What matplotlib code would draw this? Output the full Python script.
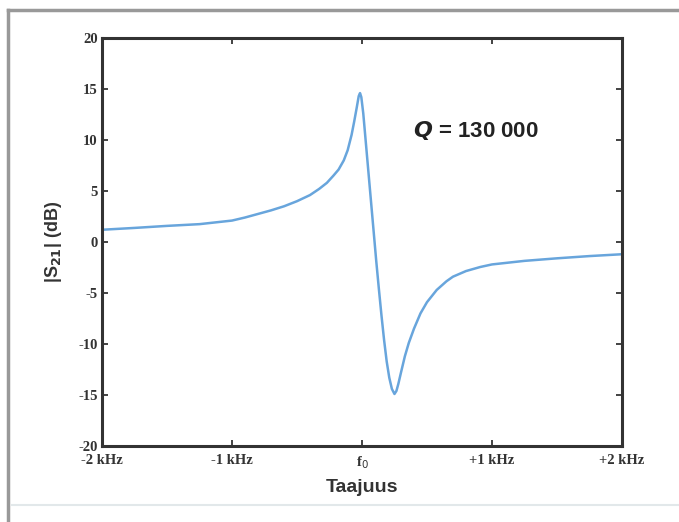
import matplotlib
matplotlib.use("Agg")
import matplotlib.pyplot as plt
from matplotlib.lines import Line2D

plt.rcParams["axes.unicode_minus"] = False

# frequency offset from f0 (kHz) and |S21| (dB)
freq = [-2.0, -1.75, -1.5, -1.25, -1.0, -0.9, -0.8, -0.7, -0.6, -0.5,
        -0.4, -0.33, -0.27, -0.22, -0.18, -0.14, -0.11, -0.08, -0.06, -0.04,
        -0.025, -0.015, -0.005, 0.01, 0.03, 0.05, 0.07, 0.09, 0.11, 0.13,
        0.15, 0.17, 0.19, 0.21, 0.23, 0.25, 0.265, 0.28, 0.30, 0.33,
        0.36, 0.40, 0.45, 0.5, 0.575, 0.65, 0.7, 0.8, 0.91, 1.0,
        1.25, 1.5, 1.75, 2.0]
s21 = [1.2, 1.38, 1.58, 1.75, 2.1, 2.4, 2.75, 3.1, 3.5, 4.0,
       4.6, 5.2, 5.8, 6.5, 7.1, 8.0, 9.0, 10.5, 11.8, 13.2,
       14.3, 14.6, 14.2, 12.6, 9.7, 6.8, 3.9, 1.0, -1.9, -4.6,
       -7.2, -9.6, -11.7, -13.3, -14.4, -14.9, -14.6, -13.9, -12.8, -11.2,
       -9.9, -8.5, -7.0, -5.9, -4.7, -3.85, -3.4, -2.85, -2.45, -2.2,
       -1.85, -1.6, -1.38, -1.2]

xticks = [-2, -1, 0, 1, 2]
xticklabels = ["-2 kHz", "-1 kHz", "f$_0$", "+1 kHz", "+2 kHz"]
yticks = [-20, -15, -10, -5, 0, 5, 10, 15, 20]

fig = plt.figure(figsize=(6.79, 5.22), dpi=100)
ax = fig.add_axes([0.1502, 0.1456, 0.7658, 0.7816])

ax.plot(freq, s21, color="#68a5dc", lw=1.8)

ax.set_xlim(-2, 2)
ax.set_ylim(-20, 20)
ax.set_xticks(xticks)
ax.set_xticklabels(xticklabels, fontfamily="Liberation Serif", fontweight="bold",
                   fontsize=10.5, color="#333333")
ax.set_yticks(yticks)
ax.set_yticklabels([str(v) for v in yticks], fontfamily="Liberation Serif",
                   fontweight="bold", fontsize=10.5, color="#333333")
ax.tick_params(direction="in", length=4, width=1.2, color="#222222",
               top=True, right=True, pad=3)
ax.tick_params(axis="x", pad=6)
for sp in ax.spines.values():
    sp.set_linewidth(2.2)
    sp.set_color("#333333")

ax.set_xlabel("Taajuus", fontfamily="Liberation Sans", fontweight="bold",
              fontsize=14, color="#333333", labelpad=6)
ax.set_ylabel("|S$_{\\mathbf{21}}$| (dB)", fontfamily="Liberation Sans",
              fontweight="bold", fontsize=13, color="#333333", labelpad=10)

ax.text(0.39, 10.9, "$\\mathbfit{Q}$ = 130 000", fontfamily="Liberation Sans",
        fontweight="bold", fontsize=16, color="#222222", va="center", ha="left")

# page frame around the figure
fig.add_artist(Line2D([8 / 679, 1.0], [1 - 10 / 522, 1 - 10 / 522],
                      color="#999999", lw=2.5, transform=fig.transFigure))
fig.add_artist(Line2D([8 / 679, 8 / 679], [0.0, 1 - 10 / 522],
                      color="#999999", lw=2.5, transform=fig.transFigure))
fig.add_artist(Line2D([12 / 679, 1.0], [1 - 505 / 522, 1 - 505 / 522],
                      color="#e2e8ea", lw=1.5, transform=fig.transFigure))

fig.savefig("out.png", dpi=100)
